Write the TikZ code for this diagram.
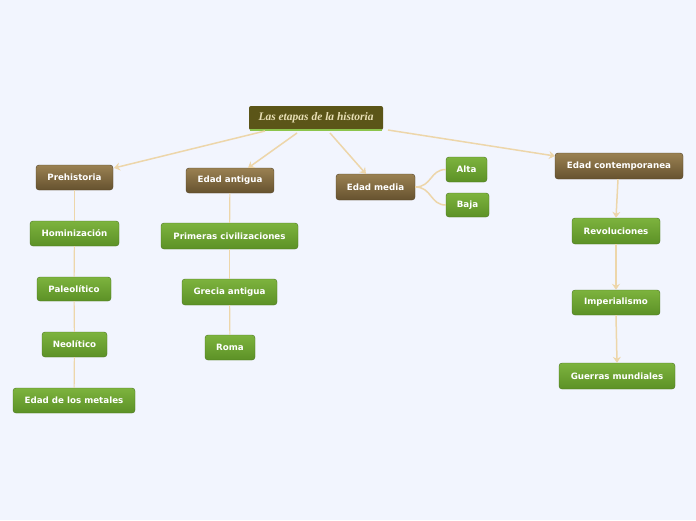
\documentclass[tikz,border=0pt]{standalone}
\usepackage{fontspec}
\setmainfont{DejaVu Sans}
\newfontfamily\rootfont{Liberation Serif}
\usetikzlibrary{arrows.meta}
\definecolor{bgc}{HTML}{F2F5FE}
\definecolor{linec}{HTML}{EDD6AA}
\definecolor{browntop}{HTML}{9A8152}
\definecolor{brownbot}{HTML}{66522F}
\definecolor{greentop}{HTML}{7DB33E}
\definecolor{greenbot}{HTML}{5C9126}
\definecolor{rootc}{HTML}{5B5518}
\definecolor{rootline}{HTML}{8CC44C}
\definecolor{roottext}{HTML}{E8DFB5}
\tikzset{
  topicbox/.style={rounded corners=3pt, draw=brownbot!80!black, line width=0.4pt,
    top color=browntop, bottom color=brownbot, text=white,
    font=\bfseries\fontsize{8.7}{10}\selectfont, minimum height=25pt, inner xsep=0pt},
  subbox/.style={rounded corners=3pt, draw=greenbot!80!black, line width=0.4pt,
    top color=greentop, bottom color=greenbot, text=white,
    font=\bfseries\fontsize{8.7}{10}\selectfont, minimum height=25pt, inner xsep=0pt},
  link/.style={draw=linec, line width=1.5pt},
  arrowlink/.style={link, -{Stealth[length=6pt,width=8pt,inset=2pt]}},
}
\begin{document}
\begin{tikzpicture}[x=1pt,y=-1pt]
\fill[bgc] (0,0) rectangle (696,520);
\useasboundingbox (0,0) rectangle (696,520);

% root
\node[fill=rootc, rounded corners=2pt, minimum width=134pt, minimum height=24pt, inner xsep=0pt,
  text=roottext, font=\rootfont\bfseries\itshape\fontsize{11.5}{13}\selectfont] (root) at (316,118) {Las etapas de la historia};
\draw[rootline, line width=1.5pt] ([xshift=1pt]root.south west) -- ([xshift=-1pt]root.south east);

% main topics
\node[topicbox, minimum width=77pt] (pre) at (74.5,177.5) {Prehistoria};
\node[topicbox, minimum width=88pt] (ant) at (230,180.5) {Edad antigua};
\node[topicbox, minimum width=79pt, minimum height=26pt] (med) at (375.5,187) {Edad media};
\node[topicbox, minimum width=128pt, minimum height=26pt] (con) at (619,166) {Edad contemporanea};

% subtopics
\node[subbox, minimum width=41pt] (alta) at (466.5,169.5) {Alta};
\node[subbox, minimum width=43pt, minimum height=24pt] (baja) at (467.5,205) {Baja};

\node[subbox, minimum width=89pt] (hom) at (74.5,233.5) {Hominización};
\node[subbox, minimum width=74pt, minimum height=24pt] (pal) at (74,289) {Paleolítico};
\node[subbox, minimum width=65pt] (neo) at (74.5,344.5) {Neolítico};
\node[subbox, minimum width=122pt] (met) at (74,400.5) {Edad de los metales};

\node[subbox, minimum width=137pt, minimum height=26pt] (pri) at (229.5,236) {Primeras civilizaciones};
\node[subbox, minimum width=95pt, minimum height=26pt] (gre) at (229.5,292) {Grecia antigua};
\node[subbox, minimum width=50pt] (rom) at (230,347.5) {Roma};

\node[subbox, minimum width=88pt, minimum height=26pt] (rev) at (616,231) {Revoluciones};
\node[subbox, minimum width=88pt] (imp) at (616,302.5) {Imperialismo};
\node[subbox, minimum width=116pt, minimum height=26pt] (gue) at (617,376) {Guerras mundiales};

% root connectors
\coordinate (r1) at (265,131);
\coordinate (r2) at (297,133);
\coordinate (r3) at (330,133);
\coordinate (r4) at (388,130);
\coordinate (t1) at (114,168);
\coordinate (t2) at (248,168);
\coordinate (t3) at (366,174);
\coordinate (t4) at (555,156);
\draw[arrowlink] (r1) -- (t1);
\draw[arrowlink] (r2) -- (t2);
\draw[arrowlink] (r3) -- (t3);
\draw[arrowlink] (r4) -- (t4);

% prehistoria chain
\draw[link, line width=1.2pt] (pre) -- (hom);
\draw[link, line width=1.2pt] (hom) -- (pal);
\draw[link, line width=1.2pt] (pal) -- (neo);
\draw[link, line width=1.2pt] (neo) -- (met);

% edad antigua chain
\draw[link, line width=1.2pt] (ant) -- (pri);
\draw[link, line width=1.2pt] (pri) -- (gre);
\draw[link, line width=1.2pt] (gre) -- (rom);

% edad media branches
\draw[link] (med.east) .. controls (432,187) and (430,169.5) .. (alta.west);
\draw[link] (med.east) .. controls (432,187) and (430,205) .. (baja.west);

% contemporanea chain
\draw[arrowlink] ([xshift=-1pt]con.south) -- (rev.north);
\draw[arrowlink] (rev.south) -- (imp.north);
\draw[arrowlink] (imp.south) -- (gue.north);
\end{tikzpicture}
\end{document}
